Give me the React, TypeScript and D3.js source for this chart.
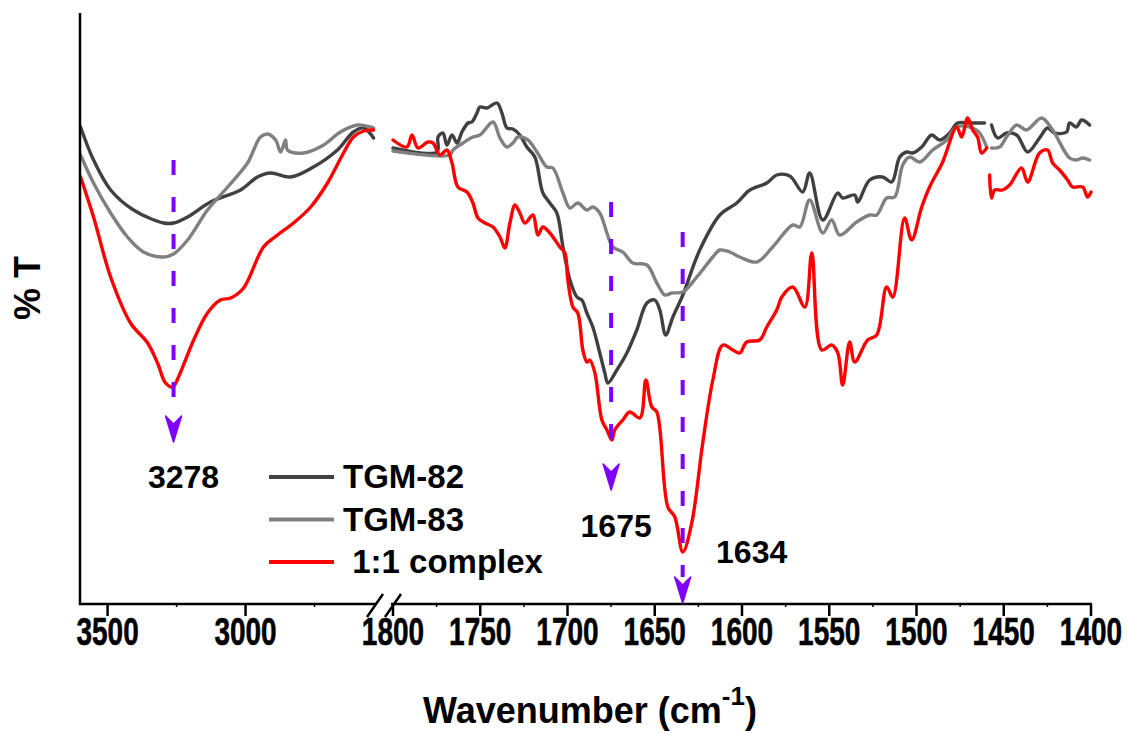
import React from "react";
import * as d3 from "d3";

type Pt = [number, number];

// TGM-82 (dark grey)
const tgm82Left: Pt[] = [[3598,95.4],[3551,88.8],[3489,82.8],[3406,78.8],[3297,76.2],[3261,76.2],[3210,77.4],[3127,80.4],[3018,82.8],[2957,85.4],[2909,86.2],[2837,85.4],[2754,87.4],[2667,90.8],[2609,94.4],[2572,95.2],[2536,93.2]];
const tgm82RightA: Pt[] = [[1800,91.2],[1774.8,90.4],[1774.2,93.4],[1771.4,94.2],[1769.1,91.8],[1766.2,93.8],[1763.3,92.2],[1760.5,94.4],[1757,96.2],[1754.8,96.4],[1751.9,98.2],[1750.2,99.4],[1746.2,99.2],[1740.4,100.2],[1737.6,98.2],[1734.7,95.2],[1731.3,95],[1727.3,93.8],[1723.3,91.4],[1718.7,89.4],[1714.1,82.2],[1710.1,80.2],[1706.1,78.2],[1702.6,71.4],[1698.6,64.8],[1694.6,61.4],[1691.8,60.8],[1688.9,58.2],[1685.5,55.4],[1681.5,50.2],[1678.6,46.2],[1676.9,44.2],[1671.7,46.8],[1666,50.2],[1660.3,54.8],[1654.5,60.2],[1650,60.8],[1647.1,58.8],[1643.7,53.8],[1639.6,57.4],[1633.9,61.8],[1624.2,70.8],[1612.7,77.8],[1603,80.2],[1595.5,82.8],[1585.8,84.2],[1580.1,85.8],[1572.6,85.6],[1565.2,82.4],[1561.2,86.2],[1553.7,76.8],[1545.1,82.2],[1542.3,81.2],[1535.4,81.8],[1533.7,80.4],[1526.8,84.8],[1519.4,85.4],[1514.2,84.4],[1509.6,89.4],[1505.6,90.4],[1502.2,90.2],[1497,91.4],[1491.3,93.8],[1486.7,92.8],[1481,94.2],[1476.4,96.2],[1469.6,96.2],[1461,96.2]];
const tgm82RightB: Pt[] = [[1457,95.8],[1453.5,93.2],[1448.4,94.2],[1442.6,93.8],[1436.3,90.4],[1429.5,93.2],[1424.9,95.2],[1420.9,94.2],[1414,94.4],[1412.3,96.2],[1408.3,95.4],[1405.4,96.8],[1400.8,95.8]];

// TGM-83 (grey)
const tgm83Left: Pt[] = [[3598,89.8],[3551,84.2],[3489,78.2],[3428,73.4],[3370,70.4],[3297,69.4],[3261,70],[3210,72.8],[3138,78.8],[3065,83.4],[2993,88.2],[2946,93.4],[2920,94],[2891,92.8],[2873,90.4],[2855,92.8],[2848,90.8],[2790,90.2],[2717,91.8],[2656,94.4],[2594,95.8],[2547,95.4],[2536,95.2]];
const tgm83RightA: Pt[] = [[1800,90.6],[1767.4,89.8],[1765.6,90.8],[1759.9,92.2],[1754.2,93.4],[1750.2,93.8],[1742.7,96.4],[1738.7,93.2],[1734.7,91.4],[1731.3,92.2],[1728.4,93.4],[1722.7,92.8],[1717.5,90.4],[1711.8,87.4],[1708.4,87.2],[1702.6,82.2],[1698.6,79.2],[1694.1,80.2],[1688.9,78.8],[1685.5,79.4],[1681.5,78.2],[1677.4,74.2],[1674,71.4],[1668.3,70.4],[1662.6,68.2],[1654.5,67.8],[1648.8,64.2],[1644.2,61.8],[1640.2,62.2],[1633.9,62.4],[1625.9,65.4],[1616.7,69.4],[1612.7,70.8],[1607,70.4],[1601.3,69.4],[1591.5,68.4],[1582.4,71.4],[1570.9,75.8],[1566.9,75.4],[1561.2,80.8],[1553.7,74.2],[1548.6,76.8],[1544,73.8],[1534.3,76.4],[1526.8,77.8],[1522.8,77.8],[1517.1,81.2],[1512.5,81.4],[1507.9,87.8],[1503.9,89.4],[1498.2,88.4],[1490.7,90.8],[1482.7,92.8],[1477,95.4],[1467.8,95.2],[1463.8,94.2],[1459.8,91.4]];
const tgm83RightB: Pt[] = [[1457,91.2],[1452.4,91.4],[1448.4,93.4],[1442.6,95.8],[1436.9,94.8],[1428.3,97.2],[1422,94.8],[1412.3,89.2],[1408.3,88.8],[1404.8,89.2],[1400.8,88.8]];

// 1:1 complex (red)
const complexLeft: Pt[] = [[3598,85.4],[3551,77.4],[3489,65.4],[3417,56.2],[3355,52.2],[3319,48.2],[3290,44.2],[3264,43.4],[3243,45.4],[3188,52.8],[3138,58.2],[3091,60.8],[3054,61.2],[3007,63.2],[2935,71.4],[2884,73.8],[2826,76.2],[2764,79.4],[2703,84.2],[2645,90.2],[2609,93.4],[2572,94.6],[2536,94.8]];
const complexRightA: Pt[] = [[1800,92.8],[1792,91.4],[1789.1,93.8],[1785.7,91.2],[1780,92.4],[1777.1,92.2],[1773.1,89.8],[1769.1,90.8],[1766.2,88.2],[1762.8,83.4],[1757.6,82.4],[1754.2,80.2],[1751.3,77.2],[1747.3,76.2],[1742.7,75.4],[1738.7,73.4],[1735.9,71.2],[1733,76.2],[1730.1,79.8],[1727.3,78.2],[1724.4,76.2],[1719.8,77.8],[1717,73.8],[1714.1,75.4],[1710.1,74.2],[1704.4,71.4],[1701.5,70.2],[1699.8,64.8],[1696.9,59.4],[1694.1,58.2],[1691.2,50.8],[1688.9,48.4],[1687.2,48.8],[1684.3,46.2],[1680.3,36.8],[1677.4,34.8],[1674.6,32.8],[1672.9,34.8],[1668.3,36.8],[1664.3,38.4],[1658.5,37.2],[1655.1,44.8],[1651.7,39.4],[1648.8,38.4],[1642.5,19.4],[1638.5,17.4],[1633.9,10.4],[1628.8,16.2],[1622.5,32.2],[1616.7,44.8],[1611,51.8],[1605.3,50.8],[1601.3,50.2],[1597.3,52.4],[1589.8,52.8],[1585.8,55.4],[1580.1,58.8],[1577.2,61.4],[1570.9,63.4],[1564,59.4],[1560,70.2],[1554.3,50.8],[1548.6,51.8],[1545.1,50.2],[1542.3,43.8],[1538.3,52.4],[1535.4,48.4],[1528,52.8],[1522.8,53.8],[1517.1,63.4],[1513.6,61.4],[1506.8,77.2],[1502.8,72.8],[1497,79.4],[1492.5,83.4],[1485,88.4],[1477,95.4],[1474.1,93.4],[1470.7,97.2],[1467.8,94.8],[1465,93.4],[1462.7,90.2],[1459.8,91.2]];
const complexRightB: Pt[] = [[1458.1,85.8],[1457,81.2],[1455.2,82.8],[1450.7,82.8],[1446.6,83.8],[1439.8,87.2],[1436.3,84.4],[1429.5,90.2],[1424.9,90.8],[1422,88.2],[1418,86.8],[1413.4,84.8],[1410.6,83.4],[1404.8,83.4],[1402,81.4],[1400,82.4]];

const seriesNames = ["TGM-82", "TGM-83", " 1:1 complex"];
const seriesColors = ["#404040", "#808080", "#ff0000"];
const seriesLeft = [tgm82Left, tgm83Left, complexLeft];
const seriesRight = [[tgm82RightA, tgm82RightB], [tgm83RightA, tgm83RightB], [complexRightA, complexRightB]];

const leftMajorTicks = [3500, 3000];
const leftMinorTicks = [3250, 2750];
const rightMajorTicks = [1800, 1750, 1700, 1650, 1600, 1550, 1500, 1450, 1400];
const rightMinorTicks = [1775, 1725, 1675, 1625, 1575, 1525, 1475, 1425];

// peak annotations: label, panel, drawn position, dashed line from/to (%T), arrow tip (%T)
const peakLabels = ["3278", "1675", "1634"];
const peakPanel = ["left", "right", "right"];
const peakPos = [3261, 1675, 1634];
const peakLineTop = [88.8, 80.4, 74.4];
const peakLineBottom = [39.8, 31.4, 5.4];
const peakArrowTip = [32.4, 22.8, 0.2];
const peakLabelT = [23.2, 13.4, 8.2];

const W = 1128, H = 733;
const axisY = 604;
const FONT = "'Liberation Sans', Arial, Helvetica, sans-serif";

export default function App() {
  const xL = d3.scaleLinear().domain([3600, 2520]).range([80, 378]);
  const xR = d3.scaleLinear().domain([1800, 1400]).range([393, 1091]);
  const y = d3.scaleLinear().domain([0, 120]).range([axisY, 4]);

  const lineL = d3.line<Pt>().x(d => xL(d[0])).y(d => y(d[1])).curve(d3.curveCatmullRom.alpha(0.5));
  const lineR = d3.line<Pt>().x(d => xR(d[0])).y(d => y(d[1])).curve(d3.curveCatmullRom.alpha(0.5));

  const labelOffsetX = [10, 5, 69];

  const tickLabel = (x: number, txt: string) => (
    <text key={"tl" + txt} transform={`translate(${x},645) scale(1,1.4)`} textAnchor="middle"
      fontFamily={FONT} fontWeight="bold" fontSize={28} fill="#000" stroke="#000" strokeWidth={0.4}>{txt}</text>
  );

  return (
    <svg width={W} height={H} style={{ position: "absolute", left: 0, top: 0, background: "#fff" }}>
      {/* curves */}
      {seriesNames.map((n, i) => (
        <g key={n} fill="none" stroke={seriesColors[i]} strokeWidth={3.4} strokeLinejoin="round" strokeLinecap="round">
          <path d={lineL(seriesLeft[i]) || ""} />
          {seriesRight[i].map((seg, j) => <path key={j} d={lineR(seg) || ""} />)}
        </g>
      ))}

      {/* axes */}
      <g stroke="#000" strokeWidth={2.5} fill="none">
        <line x1={80} y1={13} x2={80} y2={axisY + 1} />
        <line x1={79} y1={axisY} x2={376} y2={axisY} />
        <line x1={391} y1={axisY} x2={1092} y2={axisY} />
        <line x1={367} y1={617} x2={383} y2={594} />
        <line x1={385} y1={617} x2={401} y2={594} />
        {leftMajorTicks.map(t => <line key={"lm" + t} x1={xL(t)} x2={xL(t)} y1={axisY} y2={axisY + 12} />)}
        {rightMajorTicks.map(t => <line key={"rm" + t} x1={xR(t)} x2={xR(t)} y1={axisY} y2={axisY + 12} />)}
        {leftMinorTicks.map(t => <line key={"ln" + t} x1={xL(t)} x2={xL(t)} y1={axisY} y2={axisY + 3} strokeWidth={1.5} />)}
        {rightMinorTicks.map(t => <line key={"rn" + t} x1={xR(t)} x2={xR(t)} y1={axisY} y2={axisY + 3} strokeWidth={1.5} />)}
      </g>
      {leftMajorTicks.map(t => tickLabel(xL(t), String(t)))}
      {rightMajorTicks.map(t => tickLabel(xR(t), String(t)))}

      {/* peak annotations */}
      {peakLabels.map((lab, i) => {
        const px = peakPanel[i] === "left" ? xL(peakPos[i]) : xR(peakPos[i]);
        const tip = y(peakArrowTip[i]);
        return (
          <g key={lab}>
            <line x1={px} x2={px} y1={y(peakLineTop[i])} y2={y(peakLineBottom[i])}
              stroke="#8000ff" strokeWidth={4} strokeDasharray="15 22" />
            <path d={`M${px},${tip} L${px - 8},${tip - 26} L${px},${tip - 18} L${px + 8},${tip - 26} Z`} fill="#8000ff" stroke="#8000ff" strokeWidth={1.5} strokeLinejoin="round" />
            <text x={px + labelOffsetX[i]} y={y(peakLabelT[i])} textAnchor="middle"
              fontFamily={FONT} fontWeight="bold" fontSize={32} fill="#000">{lab}</text>
          </g>
        );
      })}

      {/* legend */}
      {seriesNames.map((n, i) => (
        <g key={"lg" + n}>
          <line x1={269} x2={334} y1={477 + i * 42.5} y2={477 + i * 42.5} stroke={seriesColors[i]} strokeWidth={4} />
          <text x={343} y={488 + i * 42.5} fontFamily={FONT} fontWeight="bold" fontSize={33} fill="#000" style={{ whiteSpace: "pre" }}>{n}</text>
        </g>
      ))}

      {/* axis titles */}
      <text transform="translate(40,288) rotate(-90)" textAnchor="middle" fontFamily={FONT} fontWeight="bold" fontSize={36} fill="#000">% T</text>
      <text x={590} y={723} textAnchor="middle" fontFamily={FONT} fontWeight="bold" fontSize={36} fill="#000">
        Wavenumber (cm<tspan dy={-18} fontSize={26}>-1</tspan><tspan dy={18}>)</tspan>
      </text>
    </svg>
  );
}
